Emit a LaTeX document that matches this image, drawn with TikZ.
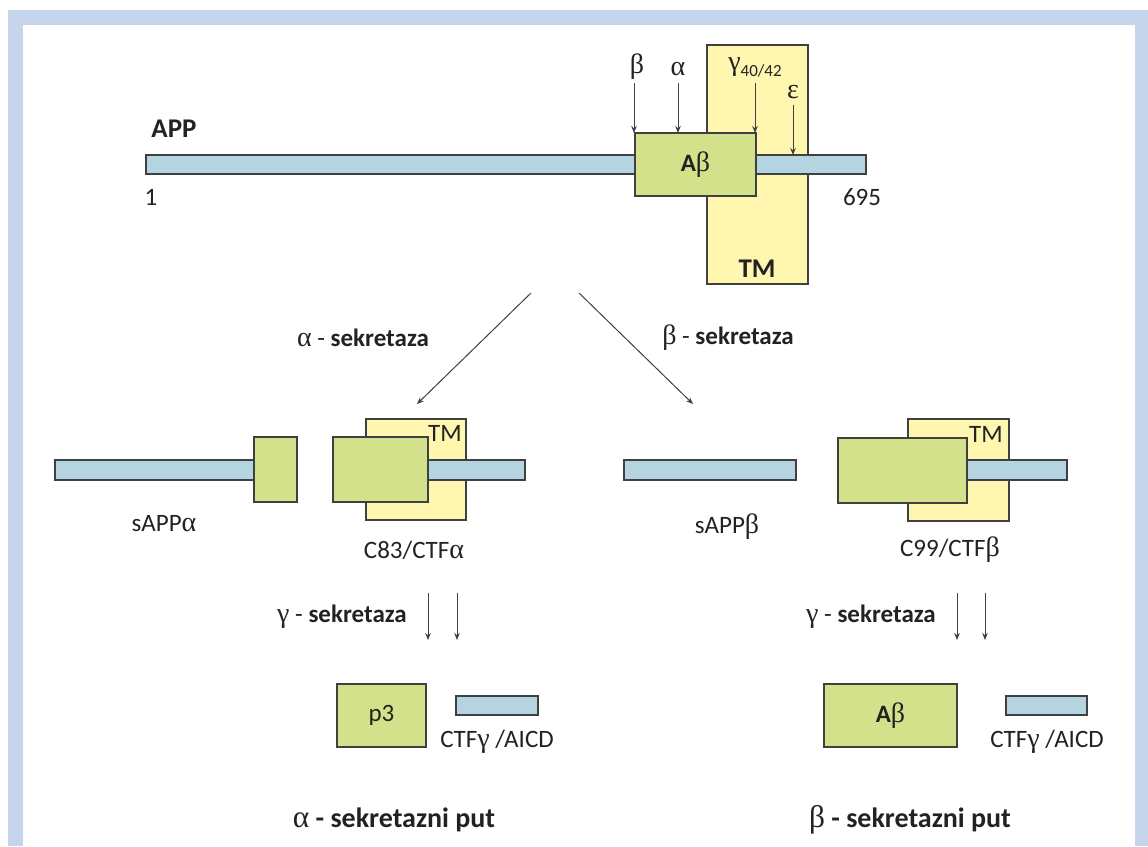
\documentclass[tikz,border=0pt]{standalone}
\usepackage{fontspec}
\setmainfont{Carlito}
\newfontfamily\grk[Scale=1.12]{Liberation Serif}
\usepackage{tikz}
\usetikzlibrary{arrows,arrows.meta,shapes,positioning}
\usepackage{xcolor}
\definecolor{appblue}{RGB}{180,212,226}
\definecolor{appgreen}{RGB}{211,226,138}
\definecolor{appyellow}{RGB}{255,247,175}
\definecolor{appedge}{RGB}{64,64,64}
\definecolor{apptext}{RGB}{34,34,34}
\definecolor{appframe}{RGB}{198,213,235}
\newcommand{\gra}{{\grk α}}
\newcommand{\grb}{{\grk β}}
\newcommand{\grg}{{\grk γ}}
\newcommand{\gre}{{\grk ε}}
\tikzstyle{chain} = [rectangle, draw=appedge, fill=appblue, line width=1.2pt, inner sep=0pt, outer sep=0pt]
\tikzstyle{abox} = [chain, fill=appgreen]
\tikzstyle{tmbox} = [chain, fill=appyellow]
\tikzstyle{lbl} = [inner sep=0pt, text=apptext, font=\fontsize{25}{30}\selectfont]
\tikzstyle{cut} = [-{Stealth[length=7pt,width=5.5pt]}, line width=1pt, color=appedge]

\begin{document}
\begin{tikzpicture}[x=1pt, y=-1pt]
    % Frame
    \useasboundingbox (0,0) rectangle (1148,846);
    \fill[appframe] (8,10) rectangle (1148,846);
    \fill[white] (23,25) rectangle (1135,846);

    % APP
    \node[tmbox, minimum width=101pt, minimum height=239pt] (tm1) at (757.5,164.5) {};
    \node[chain, minimum width=720pt, minimum height=19pt] (app) at (506,164.5) {};
    \node[abox, minimum width=121pt, minimum height=63pt] (ab1) at (695.5,164.5) {};
    \node[lbl] at (ab1) {\textbf{A}\grb};
    \node[lbl, font=\fontsize{27}{30}\selectfont\bfseries] (applbl) at (174,129) {APP};
    \node[lbl] (first) at (151,197) {1};
    \node[lbl] (last) at (862,197) {695};
    \node[lbl, font=\fontsize{27}{30}\selectfont\bfseries] (tmlbl1) at (757,269) {TM};

    % Cleavage sites
    \node[lbl] (sb) at (637,67) {\grb};
    \node[lbl] (sa) at (678,69) {\gra};
    \node[lbl] (sg) at (755,67) {\grg\raisebox{-6pt}{\fontsize{17}{18}\selectfont 40/42}};
    \node[lbl] (se) at (793,92) {\gre};
    \coordinate (cb) at (634,83);
    \coordinate (ca) at (678,83);
    \coordinate (cg) at (755,83);
    \coordinate (ce) at (793,105);
    \draw[cut] (cb) -- (cb |- ab1.north);
    \draw[cut] (ca) -- (ca |- ab1.north);
    \draw[cut] (cg) -- (cg |- ab1.north);
    \draw[cut] (ce) -- (ce |- app.north);

    % Secretases
    \coordinate (splitl) at (531,293);
    \coordinate (splitr) at (579,293);
    \coordinate (toa) at (417,404);
    \coordinate (tob) at (693,404);
    \draw[cut] (splitl) -- (toa);
    \draw[cut] (splitr) -- (tob);
    \node[lbl] (asek) at (363,338) {\gra{} - \textbf{sekretaza}};
    \node[lbl] (bsek) at (728,338) {\grb{} - \textbf{sekretaza}};

    % alpha products
    \node[chain, minimum width=199pt, minimum height=20pt] (sappa) at (154.5,470) {};
    \node[abox, minimum width=43pt, minimum height=65pt] (sappabox) at (275.5,469.5) {};
    \node[tmbox, minimum width=100pt, minimum height=101pt] (tm2) at (416,469.5) {};
    \node[chain, minimum width=105pt, minimum height=20pt] (c83) at (472.5,470) {};
    \node[abox, minimum width=95pt, minimum height=65pt] (c83box) at (380.5,469.5) {};
    \node[lbl] at (445,433) {TM};
    \node[lbl] (sappalbl) at (164,524) {sAPP\gra};
    \node[lbl] (c83lbl) at (414,550) {C83/CTF\gra};

    % beta products
    \node[chain, minimum width=172pt, minimum height=20pt] (sappb) at (710,470) {};
    \node[tmbox, minimum width=101pt, minimum height=102pt] (tm3) at (958.5,470) {};
    \node[chain, minimum width=110pt, minimum height=20pt] (c99) at (1012,470) {};
    \node[abox, minimum width=129pt, minimum height=65pt] (c99box) at (902.5,470.5) {};
    \node[lbl] at (986,434) {TM};
    \node[lbl] (sappblbl) at (727,527) {sAPP\grb};
    \node[lbl] (c99lbl) at (950,550) {C99/CTF\grb};

    % gamma secretase
    \node[lbl] (gseka) at (342,617) {\grg{} - \textbf{sekretaza}};
    \node[lbl] (gsekb) at (871,617) {\grg{} - \textbf{sekretaza}};
    \coordinate (ga1) at (428,593);
    \coordinate (ga2) at (457,593);
    \coordinate (gb1) at (957,593);
    \coordinate (gb2) at (985,593);
    \draw[cut] (ga1) -- ++(0,47);
    \draw[cut] (ga2) -- ++(0,47);
    \draw[cut] (gb1) -- ++(0,47);
    \draw[cut] (gb2) -- ++(0,47);

    % Final products
    \node[abox, minimum width=89pt, minimum height=63pt] (p3) at (381.5,715.5) {};
    \node[lbl] at (p3) {p3};
    \node[chain, minimum width=82pt, minimum height=19pt] (aicd1) at (497,705.5) {};
    \node[lbl] (aicdlbl1) at (497,742) {CTF\grg{} /AICD};
    \node[abox, minimum width=133pt, minimum height=63pt] (ab2) at (890.5,715.5) {};
    \node[lbl] at (ab2) {\textbf{A}\grb};
    \node[chain, minimum width=81pt, minimum height=19pt] (aicd2) at (1046.5,705.5) {};
    \node[lbl] (aicdlbl2) at (1047,742) {CTF\grg{} /AICD};

    % Pathways
    \node[lbl, font=\fontsize{28}{32}\selectfont] (aput) at (394,820) {\gra{} \textbf{- sekretazni put}};
    \node[lbl, font=\fontsize{28}{32}\selectfont] (bput) at (910,820) {\grb{} \textbf{- sekretazni put}};
\end{tikzpicture}
\end{document}
